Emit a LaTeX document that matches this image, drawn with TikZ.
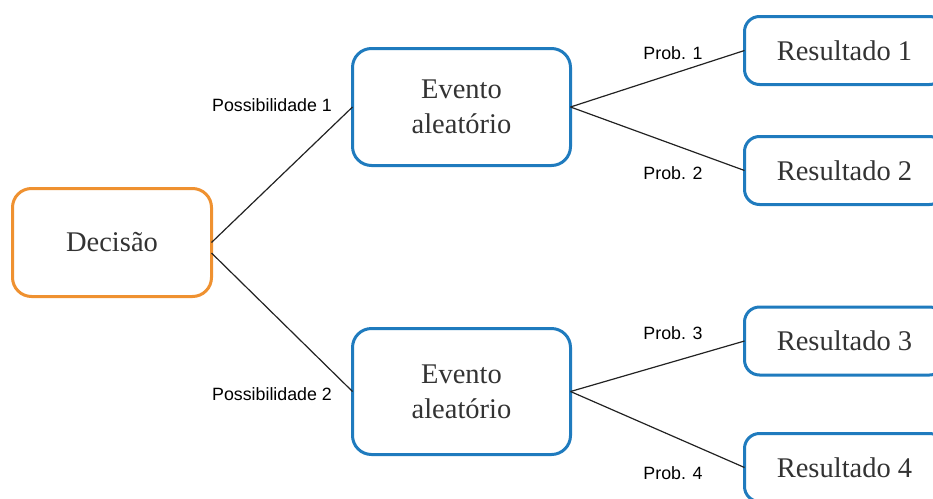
\documentclass[tikz,border=0pt]{standalone}
\usepackage{fontspec}
\setmainfont{Liberation Serif}
\newfontfamily\labelfont{Liberation Sans}
\definecolor{decorange}{HTML}{EF9130}
\definecolor{evblue}{HTML}{1F7BBE}
\definecolor{txtgray}{HTML}{333333}
\definecolor{linegray}{HTML}{222222}
\begin{document}
\begin{tikzpicture}[x=1pt,y=-1pt,
  box/.style={draw, line width=3pt, fill=white, rounded corners=19pt,
    inner sep=0pt, outer sep=0pt, align=center, text=txtgray,
    font=\fontsize{28.5}{35}\selectfont},
  decbox/.style={box, draw=decorange},
  evbox/.style={box, draw=evblue},
  resbox/.style={box, draw=evblue, rounded corners=15pt,
    minimum width=200pt, minimum height=68pt},
  branch/.style={draw=linegray, line width=1.2pt},
  lbl/.style={font=\labelfont\fontsize{17.8}{20}\selectfont, text=black, inner sep=0pt}]
\clip (0,0) rectangle (933,498);

% decision, chance events and outcomes
\node[decbox, minimum width=199pt, minimum height=108pt] (dec) at (112,242.5) {Decisão};
\node[evbox, minimum width=218pt, minimum height=117pt] (ev1) at (461.5,107) {Evento\\aleatório};
\node[evbox, minimum width=218pt, minimum height=126pt] (ev2) at (461.5,391.5) {Evento\\aleatório};
\node[resbox] (r1) at (844.5,50.5) {Resultado 1};
\node[resbox] (r2) at (844.5,170.5) {Resultado 2};
\node[resbox] (r3) at (844.5,341) {Resultado 3};
\node[resbox] (r4) at (844.5,467.5) {Resultado 4};

% branches
\draw[branch] (dec.east) -- (ev1.west);
\draw[branch] ([yshift=-10.5pt]dec.east) -- (ev2.west);
\draw[branch] (ev1.east) -- (r1.west);
\draw[branch] (ev1.east) -- (r2.west);
\draw[branch] (ev2.east) -- (r3.west);
\draw[branch] (ev2.east) -- (r4.west);

% branch labels
\node[lbl] (p1) at (272,105) {Possibilidade 1};
\node[lbl] (p2) at (272,394) {Possibilidade 2};
\node[lbl] (q1) at (673,53) {Prob. 1};
\node[lbl] (q2) at (673,173) {Prob. 2};
\node[lbl] (q3) at (673,333) {Prob. 3};
\node[lbl] (q4) at (673,473) {Prob. 4};
\end{tikzpicture}
\end{document}
